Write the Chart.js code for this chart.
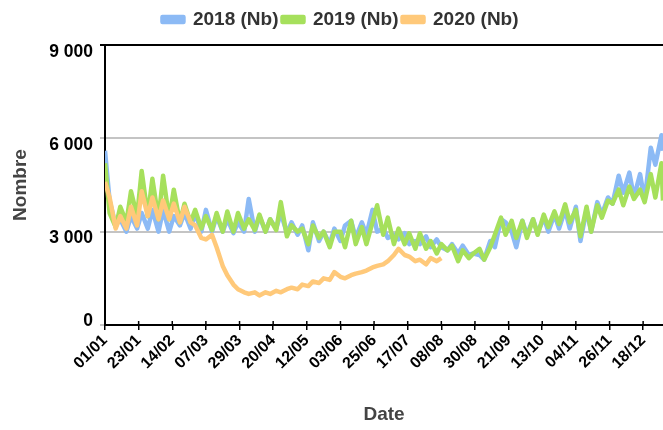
<!DOCTYPE html>
<html>
<head>
<meta charset="utf-8">
<script src="https://cdn.jsdelivr.net/npm/chart.js@4/dist/chart.umd.min.js"></script>
<style>
  html, body { margin: 0; padding: 0; background: #fff; }
  #wrap { width: 663px; height: 430px; }
</style>
</head>
<body>
<div id="wrap"><canvas id="chartNombre"></canvas></div>
<script>
// jour de l'année (0 = 01/01)
const jours = [0,3,7,10,14,17,21,24,28,31,35,38,42,45,49,52,56,59,
  63,66,70,73,77,80,84,87,91,94,98,101,105,108,112,115,
  119,122,126,129,133,136,140,143,147,150,154,157,161,164,168,171,175,178,
  182,185,189,192,196,199,203,206,210,213,217,220,224,227,231,234,238,241,
  245,248,252,255,259,262,266,269,273,276,280,283,287,290,294,297,
  301,304,308,311,315,318,322,325,329,332,336,339,343,346,350,353,357,360,364,365];

const nb2018 = [5600,4000,3200,3400,3000,3500,3100,3600,3100,3700,3000,3700,3000,3500,3200,3600,3100,3600,
  3000,3700,3000,3500,3000,3400,2950,3300,3000,4050,3000,3500,3000,3400,3100,3600,
  2950,3300,2900,3200,2400,3300,2700,3000,2600,3100,2700,3200,3350,2800,3300,2900,3700,3000,
  3100,2800,2900,2750,2950,2600,2700,2600,2850,2500,2750,2500,2400,2600,2300,2550,2250,2300,
  2250,2100,2700,2500,3400,3300,3000,2500,3350,2900,3400,2950,3450,3000,3550,3100,
  3700,3100,3800,2700,3700,3000,3950,3550,4100,3900,4800,4250,4900,4100,4850,4000,5700,5150,6100,5600];

const nb2019 = [5200,3600,3150,3800,3300,4300,3500,4950,3500,4700,3400,4800,3400,4350,3300,3900,3300,3700,
  3100,3500,3050,3600,3000,3650,3000,3600,3100,3400,3050,3550,3000,3400,3050,3950,
  2850,3200,3000,3100,2600,3200,2800,3000,2500,3000,3000,2500,3350,2600,3150,2600,3300,3850,
  2900,3450,2600,3100,2600,2950,2450,2950,2450,2700,2300,2600,2400,2550,2050,2400,2150,2300,
  2450,2100,2500,2900,3450,2900,3350,2800,3350,2800,3400,2900,3550,3150,3650,3250,
  3880,3300,3700,2850,3800,3000,3850,3450,4000,3900,4350,3850,4450,4050,4350,3950,4850,4100,5200,4000];

const nb2020 = [4600,4100,3100,3500,3100,3800,3200,4300,3500,4100,3400,4000,3400,3900,3300,3800,3300,3200,
  2800,2750,2900,2500,1900,1600,1300,1150,1050,1000,1050,950,1050,1000,1100,1050,
  1150,1200,1150,1300,1250,1400,1350,1500,1450,1700,1550,1500,1600,1650,1700,1750,1850,1900,
  1950,2050,2250,2450,2250,2200,2050,2100,1950,2150,2050,2150];

const etiquettes = ['01/01','23/01','14/02','07/03','29/03','20/04','12/05','03/06','25/06',
  '17/07','08/08','30/08','21/09','13/10','04/11','26/11','18/12'];
const pasEtiquette = 22;

const graduationsY = [0, 3000, 6000, 9000];

const points = (vals) => vals.map((v, i) => ({ x: jours[i], y: v }));
const police = "'Liberation Sans', Arial, sans-serif";
const milliers = (v) => String(v).replace(/\B(?=(\d{3})+(?!\d))/g, ' ');

// petits traits de graduation au-dessus de l'axe des dates
const traitsHaut = {
    id: 'traitsHaut',
    afterDraw(chart) {
        const sx = chart.scales.x;
        const ctx = chart.ctx;
        ctx.save();
        ctx.strokeStyle = '#000';
        ctx.lineWidth = 1.5;
        sx.ticks.forEach(t => {
            const px = sx.getPixelForValue(t.value);
            ctx.beginPath();
            ctx.moveTo(px, sx.top - 4);
            ctx.lineTo(px, sx.top);
            ctx.stroke();
        });
        ctx.restore();
    }
};

// hauteur fixe de la légende + léger décalage vers la droite
const margeLegende = {
    id: 'margeLegende',
    beforeInit(chart) {
        const lg = chart.legend;
        if (!lg) return;
        const fit = lg.fit;
        lg.fit = function () { fit.call(this); this.height = 39; };
    },
    afterLayout(chart) {
        const lg = chart.legend;
        if (!lg) return;
        lg.left += 9;
        lg.right += 9;
    }
};

new Chart(document.getElementById('chartNombre'), {
    type: 'line',
    data: {
        datasets: [
            { label: '2018 (Nb)', data: points(nb2018), borderColor: '#8cbaf5', backgroundColor: '#8cbaf5', order: 3 },
            { label: '2019 (Nb)', data: points(nb2019), borderColor: '#a6e05c', backgroundColor: '#a6e05c', order: 2 },
            { label: '2020 (Nb)', data: points(nb2020), borderColor: '#ffc97a', backgroundColor: '#ffc97a', order: 1 }
        ]
    },
    options: {
        responsive: true,
        maintainAspectRatio: false,
        animation: false,
        layout: { padding: { left: 0, right: 0, top: 6, bottom: 0 } },
        elements: {
            line: { borderWidth: 4.5, tension: 0, borderJoinStyle: 'round' },
            point: { radius: 0 }
        },
        plugins: {
            legend: {
                position: 'top',
                labels: {
                    boxWidth: 21,
                    boxHeight: 5,
                    padding: 4,
                    color: '#333',
                    font: { family: police, size: 19, weight: 'bold' },
                    sort: (a, b) => a.datasetIndex - b.datasetIndex
                }
            },
            tooltip: { enabled: false }
        },
        scales: {
            x: {
                type: 'linear',
                min: 0,
                max: 365,
                afterBuildTicks: (s) => { s.ticks = etiquettes.map((_, i) => ({ value: i * pasEtiquette })); },
                afterFit: (s) => { s.height = 105; },
                border: { color: '#000', width: 2 },
                grid: { drawOnChartArea: false, color: '#000', tickLength: 5, lineWidth: 1.5 },
                ticks: {
                    autoSkip: false,
                    maxRotation: 45,
                    minRotation: 45,
                    padding: 1,
                    color: '#000',
                    font: { family: police, size: 16, weight: 'bold' },
                    callback: (v, i) => etiquettes[i]
                },
                title: {
                    display: true,
                    text: 'Date',
                    color: '#444',
                    font: { family: police, size: 19, weight: 'bold' },
                    padding: { top: 0, bottom: 4 }
                }
            },
            y: {
                min: 0,
                max: 9000,
                afterBuildTicks: (s) => { s.ticks = graduationsY.map(v => ({ value: v })); },
                afterFit: (s) => { s.width = 105; },
                border: { color: '#000', width: 2 },
                grid: {
                    lineWidth: 2,
                    tickLength: 5,
                    color: (c) => c.tick && c.tick.value === 9000 ? '#000' : '#c4c4c4'
                },
                ticks: {
                    padding: 7,
                    labelOffset: 7,
                    color: '#000',
                    font: { family: police, size: 17.5, weight: 'bold' },
                    callback: (v) => v === 0 ? ['0', ''] : milliers(v)
                },
                title: {
                    display: true,
                    text: 'Nombre',
                    color: '#444',
                    font: { family: police, size: 19, weight: 'bold' },
                    padding: { top: 9, bottom: 0 }
                }
            }
        }
    },
    plugins: [traitsHaut, margeLegende]
});
</script>
</body>
</html>
